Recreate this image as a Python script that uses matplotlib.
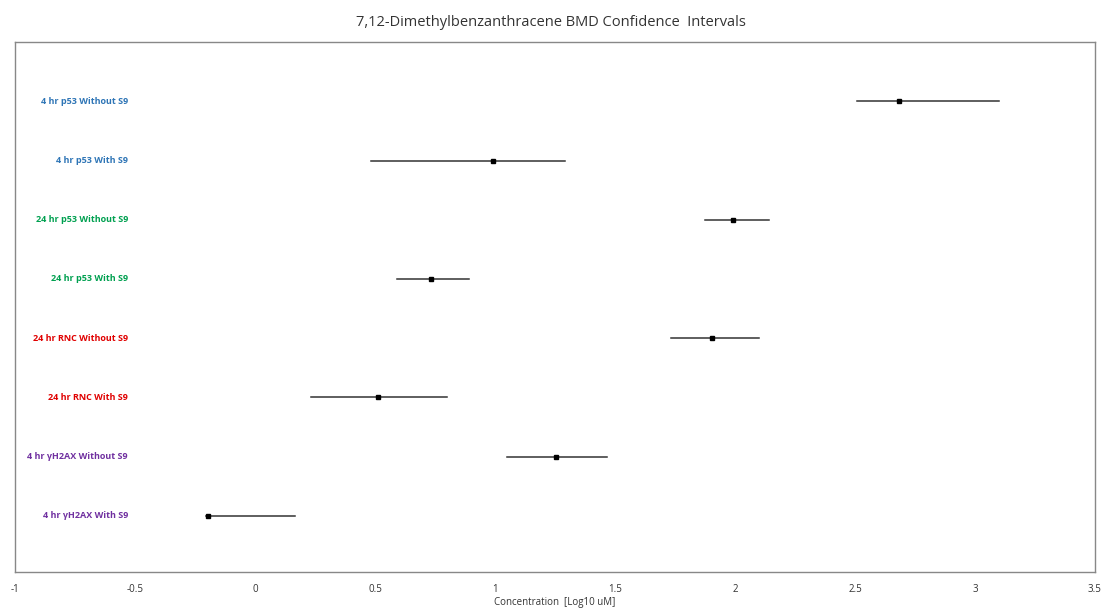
import matplotlib.pyplot as plt

labels = ["4 hr p53 Without S9", "4 hr p53 With S9", "24 hr p53 Without S9", "24 hr p53 With S9",
          "24 hr RNC Without S9", "24 hr RNC With S9", "4 hr γH2AX Without S9", "4 hr γH2AX With S9"]
bmd = [2.683, 0.99, 1.99, 0.733, 1.904, 0.512, 1.254, -0.196]
lower = [2.508, 0.483, 1.875, 0.59, 1.733, 0.233, 1.05, -0.204]
upper = [3.10, 1.29, 2.14, 0.89, 2.10, 0.80, 1.467, 0.167]
colors = ["#2E75B6", "#2E75B6", "#00A050", "#00A050", "#E00000", "#E00000", "#7030A0", "#7030A0"]

plt.rcParams['font.family'] = ['Open Sans', 'DejaVu Sans']

fig = plt.figure(figsize=(11.02, 6.12), dpi=100)
ax = fig.add_axes([0.0136, 0.0654, 0.98, 0.8656])

n = len(labels)
for i in range(n):
    y = n - i
    ax.plot([lower[i], upper[i]], [y, y], color="#333333", lw=1.1)
    ax.plot(bmd[i], y, marker="s", color="black", ms=3.2)
    ax.text(-0.53, y, labels[i], color=colors[i], fontsize=6.5, fontweight="bold",
            ha="right", va="center")

ax.set_xlim(-1, 3.5)
ax.set_ylim(0.05, 9.0)
ax.set_yticks([])
ax.set_xticks([-1, -0.5, 0, 0.5, 1, 1.5, 2, 2.5, 3, 3.5])
ax.set_xticklabels(["-1", "-0.5", "0", "0.5", "1", "1.5", "2", "2.5", "3", "3.5"])
ax.tick_params(axis="x", length=0, pad=9, labelsize=7, colors="#333333")
for s in ax.spines.values():
    s.set_color("#888888")
    s.set_linewidth(1.0)
ax.set_xlabel("Concentration  [Log10 uM]", fontsize=7, color="#333333", labelpad=1)
fig.suptitle("7,12-Dimethylbenzanthracene BMD Confidence  Intervals", fontsize=10.5,
             color="#333333", y=0.975)

fig.savefig("out.png", dpi=100)
